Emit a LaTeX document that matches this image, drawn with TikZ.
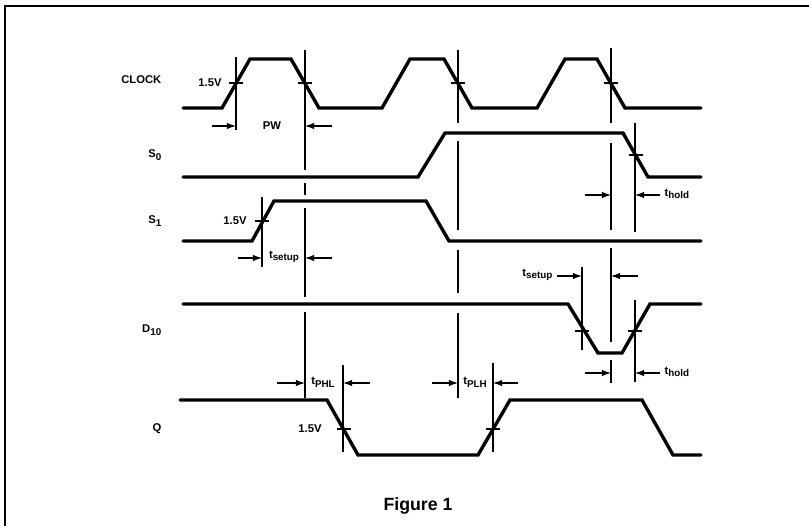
\documentclass[tikz,border=0pt]{standalone}
\usepackage{fontspec}
\setmainfont{Liberation Sans}
\usepackage{tikz}
\usetikzlibrary{arrows.meta}

\newcommand\sigsub[1]{\raisebox{-0.45ex}{\fontsize{7}{8}\selectfont #1}}

\tikzset{
  wave/.style={line width=2.4pt, line cap=round},
  refline/.style={line width=0.9pt},
  tick/.style={line width=0.8pt},
  dimarrow/.style={line width=0.8pt, -{Latex[length=6.5pt,width=4.6pt]}},
  lbl/.style={font=\bfseries\fontsize{8}{9}\selectfont, inner sep=1pt},
  sig/.style={lbl, anchor=east},
}

\begin{document}
\begin{tikzpicture}[x=0.025cm, y=-0.025cm]

  \useasboundingbox (0,0) rectangle (809,526);

  % frame
  \draw[line width=1.4pt] (5,526) -- (5,6) -- (809,6);

  % signal names
  \node[sig] (clk)  at (163,80)  {CLOCK};
  \node[sig] (s0)   at (163,155) {S\sigsub{0}};
  \node[sig] (s1)   at (163,221) {S\sigsub{1}};
  \node[sig] (d10)  at (163,330) {D\sigsub{10}};
  \node[sig] (q)    at (163,429) {Q};

  % waveforms
  \draw[wave] (183,108) -- (222,108) -- (250,59) -- (291,59) -- (319,108)
    -- (382,108) -- (410,59) -- (444,59) -- (472,108)
    -- (537,108) -- (565,59) -- (597,59) -- (625,108) -- (701,108);
  \draw[wave] (183,177) -- (418,177) -- (445,133) -- (623,133) -- (648,177) -- (701,177);
  \draw[wave] (183,241) -- (252,241) -- (274,201) -- (426,201) -- (449,241) -- (701,241);
  \draw[wave] (183,304) -- (568,304) -- (598,353) -- (622,353) -- (650,304) -- (701,304);
  \draw[wave] (180,400) -- (327,400) -- (358,455) -- (478,455) -- (510,400)
    -- (642,400) -- (673,455) -- (701,455);

  % 1.5V ticks
  \foreach \x/\y in {236/83, 305/83, 458/83, 611/83, 636/155, 262/221,
                     582/331, 635/331, 344/429, 493/429}
    \draw[tick] (\x-7,\y) -- (\x+7,\y);

  % reference lines
  \draw[refline] (236,57) -- (236,130);
  \draw[refline] (305,50) -- (305,170) (305,183) -- (305,195)
                 (305,208) -- (305,297) (305,312) -- (305,398);
  \draw[refline] (458,50) -- (458,123) (458,141) -- (458,230)
                 (458,250) -- (458,293) (458,313) -- (458,398);
  \draw[refline] (611,48) -- (611,123) (611,143) -- (611,230)
                 (611,248) -- (611,342) (611,360) -- (611,383);
  \draw[refline] (635,123) -- (635,232) (635,300) -- (635,382);
  \draw[refline] (582,267) -- (582,350);
  \draw[refline] (262,197) -- (262,267);
  \draw[refline] (343,365) -- (343,452);
  \draw[refline] (493,363) -- (493,452);

  % dimension arrows
  \draw[dimarrow] (212,126) -- (236,126);
  \draw[dimarrow] (332,126) -- (305,126);
  \draw[dimarrow] (238,258) -- (262,258);
  \draw[dimarrow] (332,258) -- (305,258);
  \draw[dimarrow] (585,195) -- (611,195);
  \draw[dimarrow] (660,195) -- (635,195);
  \draw[dimarrow] (557,276) -- (582,276);
  \draw[dimarrow] (638,276) -- (611,276);
  \draw[dimarrow] (585,373) -- (611,373);
  \draw[dimarrow] (660,373) -- (635,373);
  \draw[dimarrow] (277,383) -- (305,383);
  \draw[dimarrow] (370,383) -- (343,383);
  \draw[dimarrow] (432,383) -- (458,383);
  \draw[dimarrow] (518,383) -- (493,383);

  % labels
  \node[lbl] (v1) at (210,83)  {1.5V};
  \node[lbl] (v2) at (235,221) {1.5V};
  \node[lbl] (v3) at (310,429) {1.5V};
  \node[lbl] (pw) at (272,126) {PW};
  \node[lbl] (ts1) at (284,257) {t\sigsub{setup}};
  \node[lbl, anchor=west] (th1) at (663,194) {t\sigsub{hold}};
  \node[lbl, anchor=east] (ts2) at (554,275) {t\sigsub{setup}};
  \node[lbl, anchor=west] (th2) at (663,372) {t\sigsub{hold}};
  \node[lbl] (tphl) at (323,382) {t\sigsub{PHL}};
  \node[lbl] (tplh) at (475,382) {t\sigsub{PLH}};

  \node[font=\bfseries\fontsize{12.6}{15}\selectfont] (fig) at (418,506) {Figure 1};

\end{tikzpicture}
\end{document}
